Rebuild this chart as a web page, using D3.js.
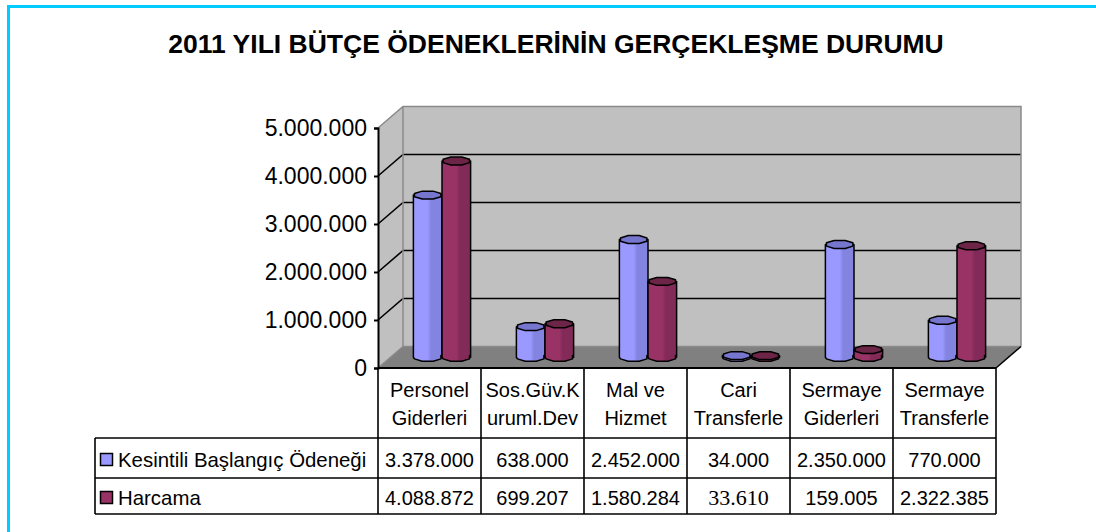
<!DOCTYPE html>
<html>
<head>
<meta charset="utf-8">
<script src="https://cdn.jsdelivr.net/npm/d3@7"></script>
<style>
  html, body { margin: 0; background: #fff; overflow: hidden; }
  svg { display: block; }
  text { font-family: "Liberation Sans", Arial, sans-serif; }
</style>
</head>
<body>
<div id="chart"></div>
<script>
// Data
const categories = [
    "Personel Giderleri", "Sos.Güv.Kuruml.Dev", "Mal ve Hizmet",
    "Cari Transferle", "Sermaye Giderleri", "Sermaye Transferle"
];
// how the header cells break the category names
const categoryLines = [
    ["Personel", "Giderleri"],
    ["Sos.Güv.K", "uruml.Dev"],
    ["Mal ve", "Hizmet"],
    ["Cari", "Transferle"],
    ["Sermaye", "Giderleri"],
    ["Sermaye", "Transferle"]
];
const seriesNames = ["Kesintili Başlangıç Ödeneği", "Harcama"];
const kesintili = [3378000, 638000, 2452000, 34000, 2350000, 770000];
const harcama = [4088872, 699207, 1580284, 33610, 159005, 2322385];
const yTicks = [0, 1000000, 2000000, 3000000, 4000000, 5000000];
const title = "2011 YILI BÜTÇE ÖDENEKLERİNİN GERÇEKLEŞME DURUMU";

const seriesValues = [kesintili, harcama];

// Dimensions
const width = 1096;
const height = 532;
const plot = { left: 378, right: 996, top: 128, bottom: 368 };
const depth = { dx: 25, dy: -21.5 };
const table = { left: 95, headerBottom: 438, row1Bottom: 478, row2Bottom: 514 };

const colors = [
    { light: "#9999ff", dark: "#8383e0", top: "#7676cf" },
    { light: "#993366", dark: "#822a58", top: "#6c2447" }
];

const trFormat = d3.formatLocale({ decimal: ",", thousands: ".", grouping: [3], currency: ["", ""] }).format(",d");

const svg = d3.select("#chart").append("svg")
    .attr("width", width)
    .attr("height", height);

const defs = svg.append("defs");
colors.forEach((c, i) => {
    const g = defs.append("linearGradient").attr("id", "body" + i)
        .attr("x1", "0%").attr("x2", "100%").attr("y1", "0%").attr("y2", "0%");
    g.append("stop").attr("offset", "0%").attr("stop-color", c.light);
    g.append("stop").attr("offset", "50%").attr("stop-color", c.light);
    g.append("stop").attr("offset", "62%").attr("stop-color", c.dark);
    g.append("stop").attr("offset", "100%").attr("stop-color", c.dark);
});

// Outer cyan frame (runs off the right and bottom edges)
svg.append("rect")
    .attr("x", 8.5).attr("y", 6.5)
    .attr("width", width + 20).attr("height", height + 20)
    .attr("fill", "#fff")
    .attr("stroke", "#00ccff")
    .attr("stroke-width", 3);

// Title
svg.append("text")
    .attr("x", 556)
    .attr("y", 53)
    .attr("text-anchor", "middle")
    .attr("font-size", "26.5px")
    .attr("font-weight", "bold")
    .text(title);

// Scales
const yScale = d3.scaleLinear()
    .domain([0, 5000000])
    .range([plot.bottom, plot.top]);

const xScale = d3.scaleBand()
    .domain(categories)
    .range([plot.left, plot.right]);

const xSeries = d3.scaleBand()
    .domain(d3.range(seriesNames.length))
    .range([0, xScale.bandwidth()])
    .paddingOuter(0.8);

const gWalls = svg.append("g").attr("class", "walls");
const x0 = plot.left, x1 = plot.right;
const y0 = plot.bottom, yTop = plot.top;
const dx = depth.dx, dy = depth.dy;

// side wall
gWalls.append("path")
    .attr("d", `M${x0},${y0}L${x0},${yTop}L${x0 + dx},${yTop + dy}L${x0 + dx},${y0 + dy}Z`)
    .attr("fill", "#c0c0c0");
// back wall
gWalls.append("path")
    .attr("d", `M${x0 + dx},${y0 + dy}L${x0 + dx},${yTop + dy}L${x1 + dx},${yTop + dy}L${x1 + dx},${y0 + dy}Z`)
    .attr("fill", "#c0c0c0");
// floor
gWalls.append("path")
    .attr("d", `M${x0},${y0}L${x0 + dx},${y0 + dy}L${x1 + dx},${y0 + dy}L${x1},${y0}Z`)
    .attr("fill", "#808080");

// grid lines (inner ones black)
yTicks.slice(1, -1).forEach(t => {
    const y = yScale(t);
    gWalls.append("path")
        .attr("d", `M${x0},${y}L${x0 + dx},${y + dy}L${x1 + dx},${y + dy}`)
        .attr("fill", "none")
        .attr("stroke", "#000")
        .attr("stroke-width", 1.6);
});

// wall edges (gray)
gWalls.append("path")
    .attr("d", `M${x0},${yTop}L${x0 + dx},${yTop + dy}L${x1 + dx},${yTop + dy}L${x1 + dx},${y0 + dy}`
        + `M${x0 + dx},${yTop + dy}L${x0 + dx},${y0 + dy}L${x1 + dx},${y0 + dy}`
        + `M${x0},${y0}L${x0 + dx},${y0 + dy}`)
    .attr("fill", "none")
    .attr("stroke", "#8a8a8a")
    .attr("stroke-width", 1.5);

// floor right edge
gWalls.append("path")
    .attr("d", `M${x1},${y0}L${x1 + dx},${y0 + dy}`)
    .attr("fill", "none")
    .attr("stroke", "#000")
    .attr("stroke-width", 1.5);

// Y axis
const gYAxis = svg.append("g").attr("class", "axis-y")
    .attr("transform", `translate(${x0}, 0)`)
    .call(d3.axisLeft(yScale).tickValues(yTicks).tickSize(4).tickPadding(7).tickFormat(trFormat));
gYAxis.select(".domain").attr("stroke", "#000").attr("stroke-width", 2);
gYAxis.selectAll(".tick line").attr("stroke", "#000").attr("stroke-width", 2);
gYAxis.selectAll(".tick text")
    .attr("font-size", "23px")
    .attr("font-family", "Liberation Sans, Arial, sans-serif")
    .attr("fill", "#000");

// Cylinders
const ry = 4.3;
function octagon(cx, cy, rx, r) {
    const pts = d3.range(8).map(i => {
        const a = Math.PI / 8 + i * Math.PI / 4;
        return [cx + rx * Math.cos(a), cy + r * Math.sin(a)];
    });
    return "M" + pts.map(p => p.join(",")).join("L") + "Z";
}
function bodyPath(cx, yt, yb, rx, r) {
    // sides plus lower half of the base
    const lower = d3.range(0, 5).map(i => {
        const a = Math.PI - Math.PI / 8 - i * Math.PI / 4;
        return [cx + rx * Math.cos(a), yb + r * Math.sin(a)];
    });
    return `M${cx - rx},${yt}L${cx - rx},${yb}` +
        lower.map(p => "L" + p.join(",")).join("") +
        `L${cx + rx},${yb}L${cx + rx},${yt}Z`;
}

const gChart = svg.append("g").attr("class", "chart");
const barData = [];
categories.forEach((cat, ci) => {
    seriesValues.forEach((vals, si) => {
        barData.push({ cat, si, value: vals[ci] });
    });
});

const bars = gChart.selectAll("g.cyl")
    .data(barData)
    .join("g")
    .attr("class", "cyl");

bars.each(function (d) {
    const g = d3.select(this);
    const rx = xSeries.bandwidth() / 2;
    const cx = xScale(d.cat) + xSeries(d.si) + rx + dx / 2;
    const yb = yScale(0) + dy / 2;
    const yt = yScale(d.value) + dy / 2;
    g.append("path")
        .attr("d", bodyPath(cx, yt, yb, rx, ry))
        .attr("fill", `url(#body${d.si})`)
        .attr("stroke", "#000")
        .attr("stroke-width", 1.5)
        .attr("stroke-linejoin", "round");
    g.append("path")
        .attr("d", octagon(cx, yt, rx, ry))
        .attr("fill", colors[d.si].top)
        .attr("stroke", "#000")
        .attr("stroke-width", 1.5)
        .attr("stroke-linejoin", "round");
});

// Data table
const gTable = svg.append("g").attr("class", "table");
const lineAttrs = sel => sel.attr("stroke", "#000").attr("stroke-width", 1.6).attr("fill", "none");

// header row
categories.forEach((cat, ci) => {
    const cx = xScale(cat) + xScale.bandwidth() / 2;
    categoryLines[ci].forEach((ln, li) => {
        gTable.append("text")
            .attr("x", cx)
            .attr("y", 397 + li * 28)
            .attr("text-anchor", "middle")
            .attr("font-size", "20px")
            .text(ln);
    });
});

// value rows
const rowBaselines = [467, 505];
seriesValues.forEach((vals, si) => {
    vals.forEach((v, ci) => {
        const serif = si === 1 && ci === 3; // this one cell is in a serif face in the original
        gTable.append("text")
            .attr("x", xScale(categories[ci]) + xScale.bandwidth() / 2)
            .attr("y", rowBaselines[si])
            .attr("text-anchor", "middle")
            .attr("font-size", serif ? "22px" : "20px")
            .style("font-family", serif ? "'Liberation Serif', 'Times New Roman', serif" : null)
            .text(trFormat(v));
    });
    // legend key + name
    gTable.append("rect")
        .attr("x", 100.5).attr("y", rowBaselines[si] - 13.5)
        .attr("width", 12).attr("height", 12)
        .attr("fill", colors[si].light)
        .attr("stroke", "#000")
        .attr("stroke-width", 1.5);
    gTable.append("text")
        .attr("x", 118)
        .attr("y", rowBaselines[si])
        .attr("font-size", "20.4px")
        .text(seriesNames[si]);
});

// table grid
const colEdges = categories.map(c => xScale(c)).concat([plot.right]);
colEdges.forEach(x => {
    gTable.append("line").call(lineAttrs)
        .attr("x1", x).attr("x2", x)
        .attr("y1", plot.bottom).attr("y2", table.row2Bottom);
});
gTable.append("line").call(lineAttrs)
    .attr("x1", plot.left).attr("x2", plot.right)
    .attr("y1", plot.bottom).attr("y2", plot.bottom)
    .attr("stroke-width", 2);
[table.headerBottom, table.row1Bottom, table.row2Bottom].forEach(y => {
    gTable.append("line").call(lineAttrs)
        .attr("x1", table.left).attr("x2", plot.right)
        .attr("y1", y).attr("y2", y);
});
gTable.append("line").call(lineAttrs)
    .attr("x1", table.left).attr("x2", table.left)
    .attr("y1", table.headerBottom).attr("y2", table.row2Bottom);
</script>
</body>
</html>
